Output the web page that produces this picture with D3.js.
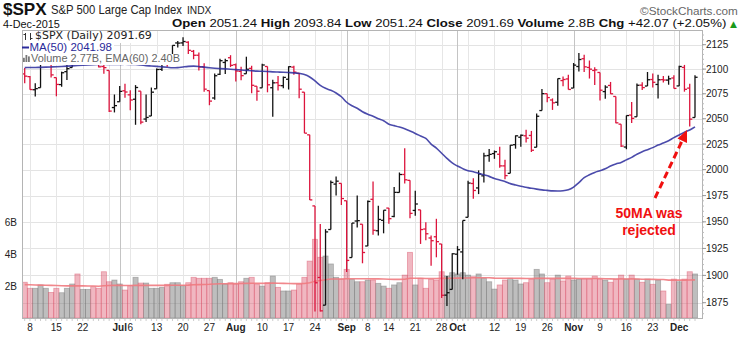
<!DOCTYPE html>
<html><head><meta charset="utf-8">
<script src="https://cdn.jsdelivr.net/npm/d3@7"></script>
<style>body{margin:0;background:#fff}text{font-family:"Liberation Sans",Arial,sans-serif}</style>
</head><body><svg id="c" width="743" height="341"></svg>
<script>
// ---------------- DATA ----------------
const dates = ["06-05","06-08","06-09","06-10","06-11","06-12","06-15","06-16","06-17","06-18","06-19",
"06-22","06-23","06-24","06-25","06-26","06-29","06-30","07-01","07-02","07-06","07-07","07-08","07-09","07-10",
"07-13","07-14","07-15","07-16","07-17","07-20","07-21","07-22","07-23","07-24","07-27","07-28","07-29","07-30","07-31",
"08-03","08-04","08-05","08-06","08-07","08-10","08-11","08-12","08-13","08-14","08-17","08-18","08-19","08-20","08-21",
"08-24","08-25","08-26","08-27","08-28","08-31","09-01","09-02","09-03","09-04","09-08","09-09","09-10","09-11",
"09-14","09-15","09-16","09-17","09-18","09-21","09-22","09-23","09-24","09-25","09-28","09-29","09-30","10-01","10-02",
"10-05","10-06","10-07","10-08","10-09","10-12","10-13","10-14","10-15","10-16","10-19","10-20","10-21","10-22","10-23",
"10-26","10-27","10-28","10-29","10-30","11-02","11-03","11-04","11-05","11-06","11-09","11-10","11-11","11-12","11-13",
"11-16","11-17","11-18","11-19","11-20","11-23","11-24","11-25","11-27","11-30","12-01","12-02","12-03","12-04"];

const opens = [2095.09,2092.34,2079.07,2081.12,2106.24,2107.43,2091.34,2084.26,2097.40,2101.58,2121.06,
2112.50,2123.16,2123.65,2109.96,2102.62,2098.63,2061.19,2067.00,2078.03,2073.95,2069.52,2077.66,2049.73,2052.74,
2080.03,2099.72,2109.21,2110.55,2126.80,2126.85,2127.55,2118.21,2114.16,2102.24,2078.19,2070.75,2094.70,2106.78,2111.60,
2104.49,2097.68,2095.27,2100.75,2082.61,2080.98,2102.66,2081.10,2086.19,2083.15,2089.70,2101.99,2095.69,2076.61,2034.08,
1965.15,1898.08,1872.75,1942.77,1986.06,1986.73,1970.09,1916.52,1950.79,1947.76,1927.30,1971.45,1941.59,1951.45,
1963.06,1955.10,1978.02,1995.33,1989.66,1960.84,1961.39,1943.24,1934.81,1935.93,1929.18,1881.90,1887.14,1919.65,1921.77,
1954.33,1986.63,1982.34,1994.01,2013.73,2015.65,2015.00,2003.66,1996.47,2024.37,2031.73,2033.13,2033.47,2021.88,2058.19,
2075.08,2068.75,2066.48,2088.35,2090.00,2080.76,2102.63,2110.60,2101.68,2098.60,2096.56,2077.19,2083.41,2072.29,2044.64,
2022.08,2053.67,2051.99,2083.70,2082.82,2089.41,2084.42,2089.30,2088.82,2090.95,2082.93,2101.71,2080.71,2051.24];

const highs = [2100.99,2093.01,2085.62,2108.50,2115.02,2107.43,2091.34,2097.40,2106.79,2126.65,2121.64,
2129.87,2128.03,2125.10,2116.04,2108.92,2098.63,2074.28,2082.78,2085.06,2078.61,2083.74,2077.66,2074.28,2081.31,
2100.67,2111.98,2114.14,2124.42,2128.91,2132.82,2128.49,2119.59,2116.87,2106.01,2078.19,2095.60,2110.60,2110.48,2114.24,
2105.70,2102.51,2112.66,2103.32,2082.61,2105.35,2102.66,2089.06,2092.93,2092.45,2102.87,2103.47,2096.17,2076.61,2034.08,
1965.15,1948.04,1943.09,1989.60,1993.48,1986.73,1970.09,1948.91,1975.01,1947.76,1970.42,1988.63,1965.29,1961.05,
1963.06,1983.19,1997.26,2020.86,1989.66,1979.64,1961.39,1949.52,1937.17,1952.89,1929.18,1899.48,1920.53,1927.21,1951.36,
1989.17,1991.62,1999.31,2016.50,2020.13,2018.66,2022.34,2009.56,2024.15,2033.54,2034.45,2039.12,2037.97,2055.20,2079.74,
2075.14,2070.37,2090.35,2092.52,2094.32,2106.20,2116.48,2114.59,2108.78,2101.91,2096.56,2083.67,2086.94,2072.29,2044.64,
2053.22,2066.69,2085.31,2086.74,2097.06,2095.61,2094.12,2093.00,2093.29,2093.81,2103.37,2104.27,2085.00,2093.84];

const lows = [2085.67,2079.11,2072.14,2081.12,2106.24,2091.33,2072.49,2082.10,2088.86,2101.58,2109.45,
2112.50,2119.89,2108.58,2101.78,2095.38,2056.64,2056.32,2067.00,2071.02,2058.40,2044.02,2044.66,2046.68,2052.74,
2080.03,2098.18,2102.49,2110.55,2122.02,2123.66,2115.40,2110.05,2098.63,2077.09,2063.52,2069.09,2094.08,2094.97,2102.07,
2087.31,2088.60,2095.27,2075.53,2067.91,2080.98,2076.49,2052.09,2078.26,2080.61,2079.30,2094.14,2070.53,2035.73,1970.89,
1867.01,1867.08,1872.75,1942.77,1975.19,1965.98,1903.07,1916.52,1944.72,1911.21,1927.30,1937.88,1937.19,1939.19,
1948.27,1954.30,1977.93,1986.73,1953.45,1955.80,1929.22,1932.57,1908.92,1916.76,1879.21,1871.91,1887.14,1900.70,1896.50,
1954.33,1971.99,1976.44,1987.53,2007.61,2010.55,2001.78,1990.73,1996.47,2020.46,2022.31,2026.61,2017.22,2021.88,2058.19,
2066.53,2058.84,2063.11,2082.63,2079.34,2080.76,2097.51,2096.98,2090.41,2083.74,2068.24,2069.91,2074.85,2045.66,2022.02,
2019.94,2045.90,2051.99,2078.76,2082.82,2081.39,2070.29,2086.30,2084.13,2080.41,2082.93,2077.11,2042.35,2051.24];

const closes = [2092.83,2079.28,2080.15,2105.20,2108.86,2094.11,2084.43,2096.29,2100.44,2121.24,2109.99,
2122.85,2124.20,2108.58,2102.31,2101.49,2057.64,2063.11,2077.42,2076.78,2068.76,2081.34,2046.68,2051.31,2076.62,
2099.60,2108.95,2107.40,2124.29,2126.64,2128.28,2119.21,2114.15,2102.15,2079.65,2067.64,2093.25,2108.57,2108.63,2103.84,
2098.04,2093.32,2099.84,2083.56,2077.57,2104.18,2084.07,2086.05,2083.39,2091.54,2102.44,2096.92,2079.61,2035.73,1970.89,
1893.21,1867.61,1940.51,1987.66,1988.87,1972.18,1913.85,1948.86,1951.13,1921.22,1969.41,1942.04,1952.29,1961.05,
1953.03,1978.09,1995.31,1990.20,1958.03,1966.97,1942.74,1938.76,1932.24,1931.34,1881.77,1884.09,1920.03,1923.82,1951.36,
1987.05,1979.92,1995.83,2013.43,2014.89,2017.46,2003.69,1994.24,2023.86,2033.11,2033.66,2030.77,2018.94,2052.51,2075.15,
2071.18,2065.89,2090.35,2089.41,2079.36,2104.05,2109.79,2102.31,2099.93,2099.20,2078.58,2081.72,2075.00,2045.97,2023.04,
2053.19,2050.44,2083.58,2081.24,2089.17,2086.59,2089.14,2088.87,2090.11,2080.41,2102.63,2079.51,2049.62,2091.69];
const prevClose0 = 2095.84;

// volume, billions
const volumes = [2.25,1.87,1.87,2.08,1.87,1.61,1.87,1.59,1.87,2.14,2.77,
1.80,1.80,1.97,1.87,2.91,2.28,2.39,2.14,1.76,2.03,2.56,2.20,2.20,1.87,
1.87,1.93,2.12,2.22,2.22,2.03,2.22,2.56,2.50,2.50,2.50,2.56,2.43,2.14,2.22,
2.14,2.28,2.50,2.56,2.12,2.01,2.22,2.64,1.93,1.70,1.70,1.76,2.14,2.56,3.58,
4.95,3.82,3.90,3.40,2.56,2.45,3.06,2.43,2.28,2.28,2.39,2.39,2.18,2.01,
1.87,2.08,2.22,2.70,4.13,2.08,2.50,1.87,2.43,2.39,2.91,2.64,2.85,2.77,2.85,
2.70,2.60,2.77,2.50,2.28,1.82,2.08,2.39,2.50,2.39,2.14,2.22,2.43,3.06,2.77,
2.22,2.45,2.70,2.33,2.64,2.39,2.45,2.45,2.45,2.64,2.45,2.39,2.25,2.45,2.70,
2.45,2.70,2.45,2.25,2.45,2.12,2.39,1.70,0.86,2.45,2.28,2.45,2.91,2.77];

// volume EMA(60), billions
const volEma = [2.10,2.09,2.08,2.07,2.06,2.05,2.04,2.03,2.02,2.02,
2.03,2.02,2.01,2.01,2.00,2.03,2.04,2.05,2.05,2.04,
2.04,2.05,2.05,2.06,2.05,2.05,2.05,2.05,2.06,2.06,
2.06,2.07,2.09,2.10,2.11,2.12,2.14,2.15,2.15,2.16,
2.16,2.17,2.18,2.19,2.19,2.18,2.19,2.20,2.19,2.18,
2.17,2.16,2.16,2.17,2.22,2.31,2.36,2.41,2.45,2.45,
2.45,2.47,2.47,2.47,2.47,2.47,2.46,2.46,2.45,2.44,
2.43,2.43,2.44,2.50,2.50,2.50,2.48,2.48,2.48,2.49,
2.49,2.50,2.51,2.52,2.52,2.53,2.53,2.53,2.53,2.51,
2.50,2.50,2.50,2.50,2.49,2.48,2.48,2.49,2.50,2.49,
2.49,2.49,2.49,2.49,2.49,2.48,2.48,2.48,2.48,2.48,
2.47,2.46,2.45,2.46,2.45,2.46,2.45,2.44,2.44,2.43,
2.42,2.42,2.38,2.38,2.38,2.38,2.39,2.40];

// MA(50)
const ma50 = [2101.5,2101.6,2101.7,2101.8,2102.0,2102.2,2102.4,2102.7,2103.0,2103.3,
2103.6,2103.9,2104.2,2104.5,2104.7,2104.9,2104.8,2104.7,2104.8,2104.9,
2104.8,2104.7,2104.2,2103.5,2103.2,2102.8,2102.3,2101.8,2101.3,2101.5,
2102.2,2102.8,2103.0,2102.7,2102.0,2101.3,2100.8,2100.5,2100.2,2099.9,
2099.5,2099.1,2098.7,2098.3,2097.9,2097.8,2097.6,2097.2,2097.0,2096.8,
2096.5,2096.2,2095.6,2094.5,2092.0,2088.0,2083.5,2080.5,2078.5,2075.8,
2072.0,2066.5,2063.0,2060.5,2057.0,2054.5,2052.5,2050.0,2048.0,2044.5,
2043.2,2041.8,2040.0,2037.8,2035.5,2033.0,2030.5,2025.0,2021.0,2016.0,
2011.0,2006.5,2003.5,2001.0,1999.0,1998.0,1996.5,1995.0,1993.5,1991.5,
1990.0,1988.5,1986.5,1985.2,1984.0,1983.0,1982.0,1981.2,1980.5,1980.0,
1979.5,1979.4,1979.6,1980.5,1983.2,1987.5,1992.2,1995.0,1997.3,1999.0,
2000.8,2003.5,2005.5,2007.0,2009.5,2012.0,2015.0,2017.5,2019.5,2021.5,
2024.0,2026.0,2028.2,2031.3,2034.0,2036.6,2038.9,2041.98];

const priceTicks = [1875,1900,1925,1950,1975,2000,2025,2050,2075,2100,2125];
const volTicks = [2,4,6];
const volTickLabels = ["2B","4B","6B"];
const xLabelDates = ["06-08","06-15","06-22","07-01","07-06","07-13","07-20","07-27","08-03","08-10","08-17","08-24",
"09-01","09-08","09-14","09-21","09-28","10-01","10-12","10-19","10-26","11-02","11-09","11-16","11-23","12-01"];
const xLabelTexts = ["8","15","22","Jul","6","13","20","27","Aug","10","17","24","Sep","8","14","21","28","Oct",
"12","19","26","Nov","9","16","23","Dec"];
const weekStarts = ["06-08","06-15","06-22","06-29","07-06","07-13","07-20","07-27","08-03","08-10","08-17","08-24",
"08-31","09-08","09-14","09-21","09-28","10-05","10-12","10-19","10-26","11-02","11-09","11-16","11-23","11-30"];
const monthStarts = ["07-01","08-03","09-01","10-01","11-02","12-01"];

// ---------------- CHART ----------------
const svg = d3.select('#c');
const L = 22, R = 702, T = 30, B = 318;
const idx = dates.map((d,i)=>i);
const x = d3.scaleLinear().domain([0, dates.length-1]).range([24.7, 695.0]);
const y = d3.scaleLog().domain([1875, 2125]).range([302.7, 44.7]);
const yv = d3.scaleLinear().domain([0, 6]).range([B, 222.6]);
const xi = d => x(dates.indexOf(d));
const up = idx.map(i => closes[i] >= (i ? closes[i-1] : prevClose0));

svg.append('defs').append('clipPath').attr('id','plot')
  .append('rect').attr('x',L).attr('y',T).attr('width',R-L).attr('height',B-T);

const grid = svg.append('g');
grid.selectAll('.hg').data(priceTicks).join('line')
  .attr('x1',L).attr('x2',R).attr('y1',d=>Math.round(y(d))+0.5).attr('y2',d=>Math.round(y(d))+0.5)
  .attr('stroke','#e3e3e3');
grid.selectAll('.wg').data(weekStarts).join('line')
  .attr('x1',d=>Math.round(xi(d))+0.5).attr('x2',d=>Math.round(xi(d))+0.5).attr('y1',T).attr('y2',B)
  .attr('stroke','#e6e6e6');
grid.selectAll('.mg').data(monthStarts).join('line')
  .attr('x1',d=>Math.round(xi(d))+0.5).attr('x2',d=>Math.round(xi(d))+0.5).attr('y1',T).attr('y2',B)
  .attr('stroke','#c4c4c4');

const plot = svg.append('g').attr('clip-path','url(#plot)');

// volume bars
plot.selectAll('.vb').data(idx).join('rect')
  .attr('x', i => x(i)-2.6).attr('width', 5.2)
  .attr('y', i => yv(volumes[i])).attr('height', i => B - yv(volumes[i]))
  .attr('fill', i => up[i] ? 'rgba(125,125,125,0.5)' : 'rgba(222,95,118,0.45)')
  .attr('stroke', i => up[i] ? 'rgba(110,110,110,0.45)' : 'rgba(215,70,95,0.45)')
  .attr('stroke-width', 0.8);

// volume EMA
plot.append('path').datum(idx)
  .attr('d', d3.line().x(i=>x(i)).y(i=>yv(volEma[i])))
  .attr('fill','none').attr('stroke','#f07a80').attr('stroke-width',1.6).attr('opacity',0.9);

// price bars
const bars = plot.selectAll('.pb').data(idx).join('g')
  .attr('stroke', i => up[i] ? '#111' : '#dc143c').attr('stroke-width',1.3);
bars.append('line').attr('x1',i=>x(i)).attr('x2',i=>x(i)).attr('y1',i=>y(highs[i])).attr('y2',i=>y(lows[i]));
bars.append('line').attr('x1',i=>x(i)-2.6).attr('x2',i=>x(i)).attr('y1',i=>y(opens[i])).attr('y2',i=>y(opens[i]));
bars.append('line').attr('x1',i=>x(i)).attr('x2',i=>x(i)+2.6).attr('y1',i=>y(closes[i])).attr('y2',i=>y(closes[i]));

// MA(50)
plot.append('path').datum(idx)
  .attr('d', d3.line().x(i=>x(i)).y(i=>y(ma50[i])).curve(d3.curveMonotoneX))
  .attr('fill','none').attr('stroke','#2c2c9c').attr('stroke-width',1.6).attr('opacity',0.85);

// frame
svg.append('rect').attr('x',L+0.5).attr('y',T+0.5).attr('width',R-L).attr('height',B-T)
  .attr('fill','none').attr('stroke','#b4b4b4');

// right axis
const minor = d3.range(1865, 2140, 5);
svg.selectAll('.mt').data(minor).join('line')
  .attr('x1',R).attr('x2',R+2).attr('y1',d=>y(d)).attr('y2',d=>y(d)).attr('stroke','#bbb');
svg.selectAll('.pt').data(priceTicks).join('line')
  .attr('x1',R).attr('x2',R+4).attr('y1',d=>y(d)).attr('y2',d=>y(d)).attr('stroke','#999');
svg.selectAll('.pl').data(priceTicks).join('text')
  .attr('x',R+4).attr('y',d=>y(d)).attr('dy','0.36em')
  .attr('font-size',10).attr('fill','#222').text(d=>d);

// left volume labels
svg.selectAll('.vl').data(volTicks).join('text')
  .attr('x',17).attr('y',d=>yv(d)).attr('dy','0.36em').attr('text-anchor','end')
  .attr('font-size',10).attr('fill','#222').text((d,i)=>volTickLabels[i]);

// bottom ticks + labels
svg.selectAll('.bt').data(idx).join('line')
  .attr('x1',i=>x(i)).attr('x2',i=>x(i)).attr('y1',B+1).attr('y2',B+3).attr('stroke','#ccc');
svg.selectAll('.xl').data(xLabelDates).join('text')
  .attr('x',d=>xi(d)).attr('y',331).attr('text-anchor','middle')
  .attr('font-size',10).attr('fill','#222')
  .attr('font-weight',(d,i)=>isNaN(+xLabelTexts[i]) ? 'bold' : 'normal')
  .text((d,i)=>xLabelTexts[i]);

// helper to fit a group horizontally
function fitGroup(g, x0, x1){
  const bb = g.node().getBBox();
  const s = (x1-x0)/bb.width;
  g.attr('transform', `translate(${x0},0) scale(${s},1) translate(${-bb.x},0)`);
}

// header
let g = svg.append('g');
g.append('text').attr('y',14.8).attr('font-size',16).attr('font-weight','bold').attr('fill','#111').text('$SPX');
fitGroup(g, 3, 47);
g = svg.append('g');
g.append('text').attr('y',14.5).attr('font-size',12).attr('fill','#222').text('S&P 500 Large Cap Index');
fitGroup(g, 51, 182);
g = svg.append('g');
g.append('text').attr('y',14.5).attr('font-size',11).attr('fill','#222').text('INDX');
fitGroup(g, 187, 212);
g = svg.append('g');
g.append('text').attr('y',15).attr('font-size',11).attr('fill','#666').text('\u00A9StockCharts.com');
fitGroup(g, 640, 738);
g = svg.append('g');
g.append('text').attr('y',27.8).attr('font-size',10.5).attr('fill','#111').text('4-Dec-2015');
fitGroup(g, 3, 60);

const hdr = [["Open","2051.24"],["High","2093.84"],["Low","2051.24"],["Close","2091.69"],["Volume","2.8B"],["Chg","+42.07 (+2.05%)"]];
g = svg.append('g');
const ht = g.append('text').attr('y',27.5).attr('font-size',11).attr('fill','#111');
hdr.forEach((p,k)=>{
  ht.append('tspan').attr('font-weight','bold').text((k? '  ':'')+p[0]);
  ht.append('tspan').text(' '+p[1]);
});
fitGroup(g, 172, 727);
svg.append('text').attr('x',730).attr('y',27).attr('font-size',9).attr('fill','#1a9a1a')
  .style('font-family','DejaVu Sans').text('\u25B2');

// legend
const lg = svg.append('g');
lg.append('rect').attr('x',L+1).attr('y',T+1).attr('width',131).attr('height',12).attr('fill','#fff');
lg.append('rect').attr('x',L+1).attr('y',T+13).attr('width',91).attr('height',11).attr('fill','#fff');
lg.append('rect').attr('x',L+1).attr('y',T+24).attr('width',159).attr('height',11).attr('fill','#fff');
// OHLC icon
const ic = lg.append('g').attr('stroke','#333').attr('stroke-width',1);
ic.append('line').attr('x1',25.5).attr('x2',25.5).attr('y1',33).attr('y2',40);
ic.append('line').attr('x1',23.5).attr('x2',25.5).attr('y1',34.5).attr('y2',34.5);
ic.append('line').attr('x1',30.5).attr('x2',30.5).attr('y1',33).attr('y2',40);
ic.append('line').attr('x1',30.5).attr('x2',32.5).attr('y1',38.5).attr('y2',38.5);
g = lg.append('g');
g.append('text').attr('y',39.5).attr('font-size',11).attr('fill','#222').style('font-family','DejaVu Sans')
  .text('$SPX (Daily) 2091.69');
fitGroup(g, 35, 152);
lg.append('line').attr('x1',22).attr('x2',29).attr('y1',47.5).attr('y2',47.5).attr('stroke','#2c2c9c').attr('stroke-width',2);
g = lg.append('g');
g.append('text').attr('y',51.3).attr('font-size',11).attr('fill','#2a2a9a').text('MA(50) 2041.98');
fitGroup(g, 29.5, 112);
[[23,3],[25.5,5],[28,4]].forEach(b=>lg.append('rect').attr('x',b[0]).attr('y',62-b[1]*1.4).attr('width',1.8).attr('height',b[1]*1.4).attr('fill','#777'));
g = lg.append('g');
g.append('text').attr('y',62.3).attr('font-size',11).attr('fill','#666').text('Volume 2.77B, EMA(60) 2.40B');
fitGroup(g, 31, 180);

// annotation
const red = '#f01010';
svg.append('line').attr('x1',655).attr('y1',198).attr('x2',682.5).attr('y2',140)
  .attr('stroke',red).attr('stroke-width',3).attr('stroke-dasharray','7,4');
svg.append('polygon').attr('points','687,130 677.5,138.5 687,143').attr('fill',red);
svg.append('text').attr('x',649).attr('y',218).attr('text-anchor','middle').attr('font-size',14)
  .attr('font-weight','bold').attr('fill',red).text('50MA was');
svg.append('text').attr('x',649).attr('y',235).attr('text-anchor','middle').attr('font-size',14)
  .attr('font-weight','bold').attr('fill',red).text('rejected');
</script>
</body></html>
